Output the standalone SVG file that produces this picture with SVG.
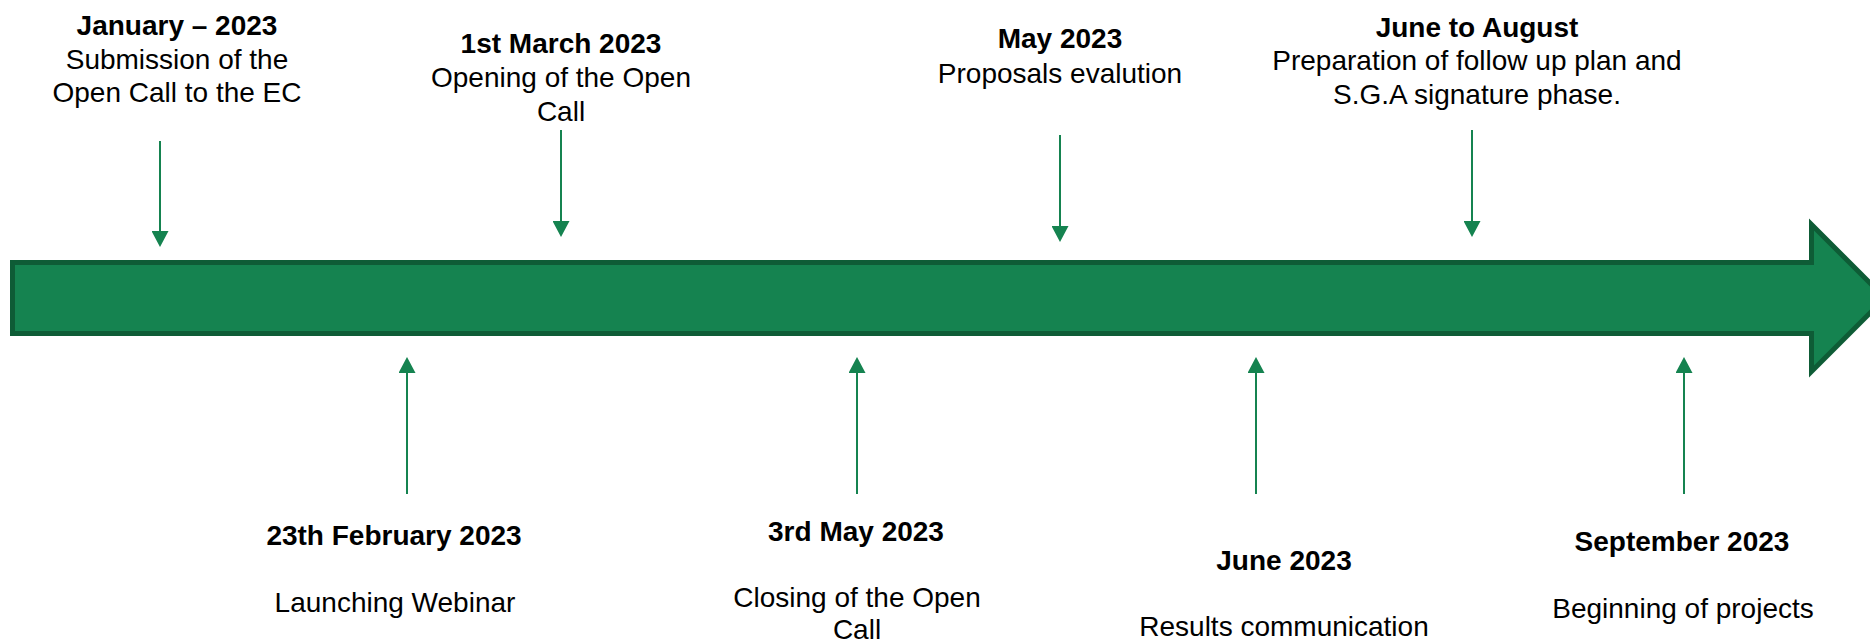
<svg xmlns="http://www.w3.org/2000/svg" width="1870" height="644" viewBox="0 0 1870 644">
  <style>
    text { font-family: "Liberation Sans", Arial, sans-serif; font-size: 28px; fill: #000; text-anchor: middle; }
    .b { font-weight: bold; }
    .bar { fill: #158350; stroke: #0E5C36; stroke-width: 5; stroke-linejoin: miter; }
    .conn { stroke: #158350; stroke-width: 2; fill: none; marker-end: url(#ah); }
  </style>
  <defs>
    <marker id="ah" markerUnits="userSpaceOnUse" markerWidth="17" markerHeight="17" refX="11" refY="8.5" orient="auto">
      <path d="M0,0 L16,8.5 L0,17 Z" fill="#158350"/>
    </marker>
  </defs>
  <rect width="1870" height="644" fill="#fff"/>
  <g id="timeline">
    <path class="bar" d="M12.5,262.5 H1811.5 V224.5 L1885,298 L1811.5,371.5 V333.5 H12.5 Z"/>
  </g>
  <g id="connectors">
    <line class="conn" x1="160" y1="141" x2="160" y2="242"/>
    <line class="conn" x1="561" y1="130" x2="561" y2="232"/>
    <line class="conn" x1="1060" y1="135" x2="1060" y2="237"/>
    <line class="conn" x1="1472" y1="130" x2="1472" y2="232"/>
    <line class="conn" x1="407" y1="494" x2="407" y2="362"/>
    <line class="conn" x1="857" y1="494" x2="857" y2="362"/>
    <line class="conn" x1="1256" y1="494" x2="1256" y2="362"/>
    <line class="conn" x1="1684" y1="494" x2="1684" y2="362"/>
  </g>
  <g id="node-january">
    <text class="b" x="177" y="35">January – 2023</text>
    <text x="177" y="69">Submission of the</text>
    <text x="177" y="102">Open Call to the EC</text>
  </g>
  <g id="node-march">
    <text class="b" x="561" y="53">1st March 2023</text>
    <text x="561" y="87">Opening of the Open</text>
    <text x="561" y="121">Call</text>
  </g>
  <g id="node-may">
    <text class="b" x="1060" y="48">May 2023</text>
    <text x="1060" y="83">Proposals evalution</text>
  </g>
  <g id="node-june-august">
    <text class="b" x="1477" y="37">June to August</text>
    <text x="1477" y="70">Preparation of follow up plan and</text>
    <text x="1477" y="104">S.G.A signature phase.</text>
  </g>
  <g id="node-february">
    <text class="b" x="394" y="545">23th February 2023</text>
    <text x="395" y="612">Launching Webinar</text>
  </g>
  <g id="node-3rd-may">
    <text class="b" x="856" y="541">3rd May 2023</text>
    <text x="857" y="607">Closing of the Open</text>
    <text x="857" y="639">Call</text>
  </g>
  <g id="node-june">
    <text class="b" x="1284" y="570">June 2023</text>
    <text x="1284" y="636">Results communication</text>
  </g>
  <g id="node-september">
    <text class="b" x="1682" y="551">September 2023</text>
    <text x="1683" y="618">Beginning of projects</text>
  </g>
</svg>
